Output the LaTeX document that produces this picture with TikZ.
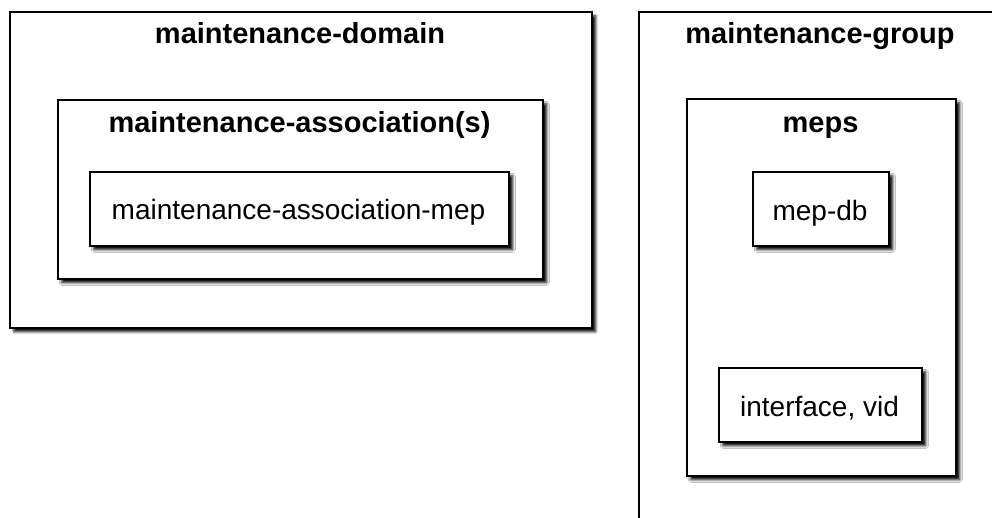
\documentclass[tikz,border=0pt]{standalone}
\usepackage{fontspec}
\setmainfont{Liberation Sans}
\usetikzlibrary{shadows.blur}
\begin{document}
\begin{tikzpicture}[x=1pt,y=-1pt,
  box/.style={draw=black, line width=1.6pt, fill=white, inner sep=0pt, anchor=north west,
    blur shadow={shadow xshift=4pt, shadow yshift=-4pt, shadow blur radius=2.5pt, shadow opacity=95}},
  titletext/.style={font=\fontsize{29}{31}\selectfont\bfseries, anchor=base, inner sep=0pt},
  plaintext/.style={font=\fontsize{28}{30}\selectfont, anchor=base, inner sep=0pt}]
\useasboundingbox (0,0) rectangle (992,517);
\clip (0,0) rectangle (992,517);
% maintenance-domain
\node[box, minimum width=582pt, minimum height=316pt] (domain) at (9,11) {};
\node[box, minimum width=485pt, minimum height=179pt] (assoc) at (57,99) {};
\node[box, minimum width=419pt, minimum height=74pt] (mep) at (89,171) {};
\node[titletext] (domaintitle) at (300,43) {maintenance-domain};
\node[titletext] (assoctitle) at (299.5,132) {maintenance-association(s)};
\node[plaintext] (meptext) at (298.5,219.5) {maintenance-association-mep};
% maintenance-group
\node[box, minimum width=365pt, minimum height=530pt] (group) at (638,11) {};
\node[box, minimum width=269pt, minimum height=377pt] (meps) at (686,98) {};
\node[box, minimum width=136pt, minimum height=74pt] (mepdb) at (752,171) {};
\node[box, minimum width=203pt, minimum height=74pt] (iface) at (718,367) {};
\node[titletext] (grouptitle) at (820,43) {maintenance-group};
\node[titletext] (mepstitle) at (820.5,132) {meps};
\node[plaintext] (mepdbtext) at (820,220) {mep-db};
\node[plaintext] (ifacetext) at (819.5,416) {interface, vid};
\end{tikzpicture}
\end{document}
